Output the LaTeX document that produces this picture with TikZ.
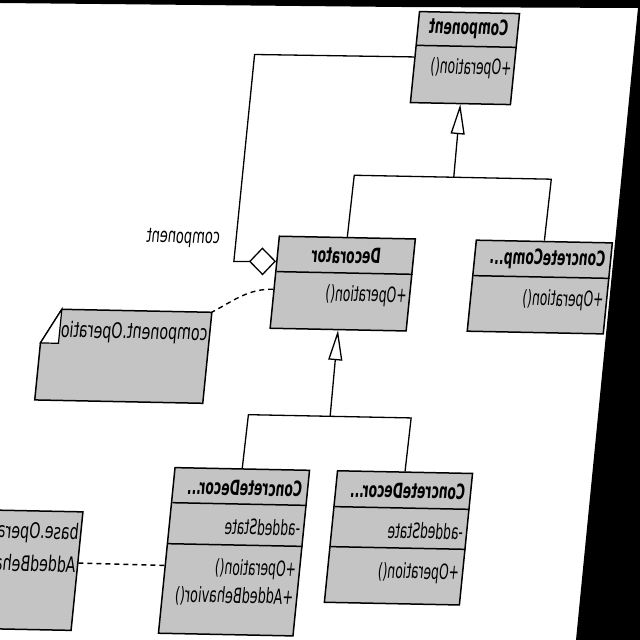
\documentclass[tikz,border=0pt]{standalone}
\usepackage{fontspec}
\setmainfont{DejaVu Sans}
\usetikzlibrary{arrows.meta,calc}
\definecolor{boxgray}{RGB}{196,196,196}
\begin{document}
\begin{tikzpicture}[x=1pt,y=1pt]
\useasboundingbox (0,0) rectangle (640,640);
\clip (0,0) rectangle (640,640);
\fill[white] (0,0) rectangle (640,640);
\fill[black] (0,640) -- (640,640) -- (640,0) -- (576,0) -- (638,632) -- (400,633) -- (0,637) -- cycle;
\begin{scope}[cm={-1,0.02,0.1,1,(640,0)},
  every node/.append style={transform shape},
  cls/.style={draw, line width=1.5pt, fill=boxgray, inner sep=0pt, anchor=south west},
  divl/.style={line width=1.5pt},
  conn/.style={line width=1.3pt},
  ttl/.style={font=\bfseries\fontsize{12.3}{14}\selectfont, inner sep=0pt, yscale=1.7},
  mem/.style={font=\fontsize{12.3}{14}\selectfont, inner sep=0pt, yscale=1.7, anchor=west},
  notetxt/.style={font=\fontsize{14.2}{16}\selectfont, inner sep=0pt, yscale=1.5, anchor=west},
  dsh/.style={line width=1.4pt, dash pattern=on 5pt off 4pt}]

% connector bend points
\coordinate (g1) at (232,458);
\coordinate (g2) at (331.5,458);
\coordinate (g3) at (134.5,458);
\coordinate (h1) at (331.5,217);
\coordinate (h2) at (413.2,217);
\coordinate (h3) at (250.5,217);
\coordinate (a1) at (443,369.5);
\coordinate (a2) at (443,576.5);
\coordinate (n1corner) at (460,318.5);

% Component
\node[cls, minimum width=100pt, minimum height=91pt] (comp) at (182,531) {};
\draw[divl] (182,589) -- (282,589);
\node[ttl] (compname) at (232,606.5) {Component};
\node[mem] (compop) at (185,567) {+Operation()};

% Decorator
\node[cls, minimum width=136pt, minimum height=92pt] (dec) at (263.5,303) {};
\draw[divl] (263.5,360.4) -- (399.5,360.4);
\node[ttl] (decname) at (331.5,377.7) {Decorator};
\node[mem] (decop) at (267,338) {+Operation()};

% ConcreteComponent
\node[cls, minimum width=136pt, minimum height=91pt] (cc) at (66.5,304) {};
\draw[divl] (66.5,360.3) -- (202.5,360.3);
\node[ttl, anchor=west] (ccname) at (72.5,378) {ConcreteComp...};
\node[mem] (ccop) at (70,337.5) {+Operation()};

% ConcreteDecorator (left in picture)
\node[cls, minimum width=134.5pt, minimum height=165.6pt] (cdl) at (346,-3.6) {};
\draw[divl] (346,127.7) -- (480.5,127.7);
\node[ttl, anchor=west] (cdlname) at (352,144) {ConcreteDecor...};
\draw[divl] (346,86.7) -- (480.5,86.7);
\node[mem] (cdlattr) at (350,105) {-addedState};
\node[mem] (cdlop) at (350,62.5) {+Operation()};
\node[mem, xscale=1.04] (cdlop2) at (350,35.2) {+AddedBehavior()};

% ConcreteDecorator (right in picture)
\node[cls, minimum width=135pt, minimum height=131.5pt] (cdr) at (183,30.6) {};
\draw[divl] (183,127) -- (318,127);
\node[ttl, anchor=west] (cdrname) at (189,144.5) {ConcreteDecor...};
\draw[divl] (183,87) -- (318,87);
\node[mem] (cdrattr) at (187,104.5) {-addedState};
\node[mem] (cdrop) at (187,62.4) {+Operation()};

% generalisation
\draw[conn] (dec.north) -- (g2) -- (g3) -- (cc.north);
\draw[conn, -{Triangle[open,length=30pt,width=14pt]}] (g1) -- (comp.south);
\draw[conn] (cdl.north) -- (h2) -- (h3) -- (cdr.north);
\draw[conn, -{Triangle[open,length=30pt,width=14pt]}] (h1) -- (dec.south);

% aggregation
\draw[conn, {Diamond[open,length=27pt,width=28pt]}-] ($(dec.north east)!0.277!(dec.south east)$) -- (a1) -- (a2) -- (comp.east);
\node[font=\fontsize{13}{15}\selectfont, inner sep=0pt, yscale=1.55] (complbl) at (496,392) {component};

% note 1
\draw[dsh] ($(dec.north east)!0.576!(dec.south east)$) to[out=0,in=150] (n1corner);
\filldraw[line width=1.5pt, fill=boxgray] (460,318.5) -- (610,318.5) -- (628,284.5) -- (628,227.5) -- (460,227.5) -- cycle;
\filldraw[line width=1.2pt, fill=white] (610,318.5) -- (628,284.5) -- (610,284.5) -- cycle;
\begin{scope}
\clip (460,227.5) rectangle (609.5,318.5);
\node[notetxt] (n1txt) at (462,296.4) {component.Operation()};
\end{scope}

% note 2
\node[cls, minimum width=200pt, minimum height=118.5pt] (note2) at (568,-2.5) {};
\node[notetxt] (n2a) at (570.5,95) {base.Operation()};
\node[notetxt] (n2b) at (570.5,63) {AddedBehavior()};
\draw[dsh] ($(cdl.north east)!0.59!(cdl.south east)$) -- ($(note2.north west)!0.433!(note2.south west)$);
\end{scope}
\end{tikzpicture}
\end{document}
